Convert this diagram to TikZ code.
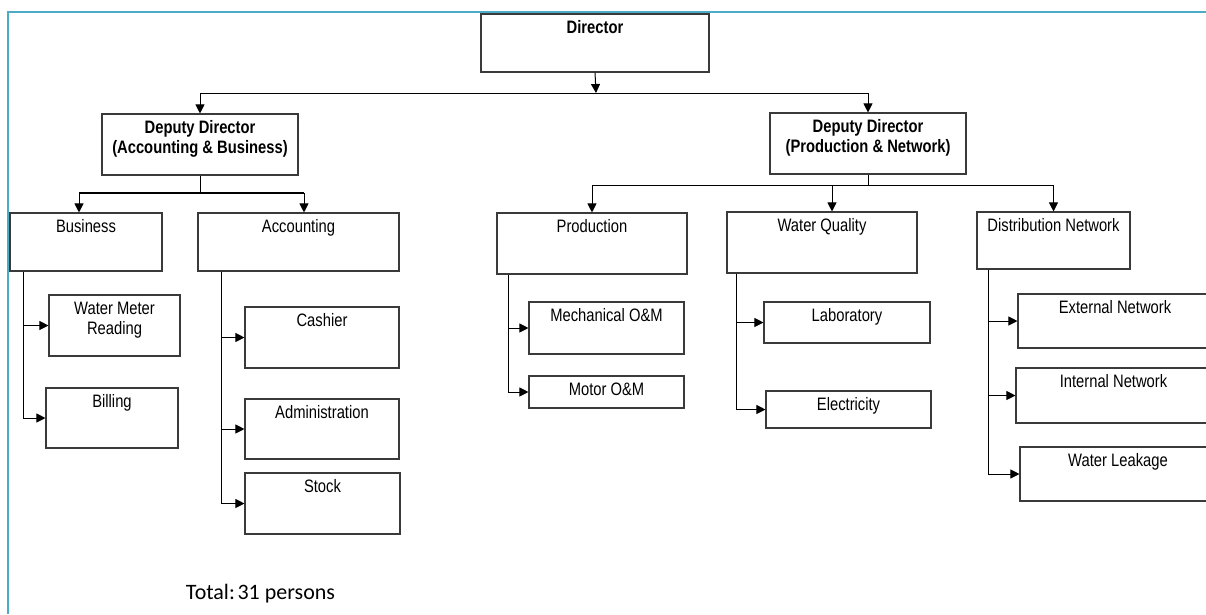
\documentclass[tikz,border=0pt]{standalone}
\usepackage{fontspec}
\setmainfont{Liberation Sans}[FakeStretch=0.82]
\newfontfamily\totalfont{Carlito}
\usetikzlibrary{arrows.meta}
\definecolor{frame-blue}{HTML}{4BACC6}
\definecolor{box-gray}{HTML}{3A3A3A}

\begin{document}
\begin{tikzpicture}[x=1pt, y=-1pt,
      every node/.style={font=\fontsize{18}{20}\selectfont},
      unit/.style={draw=box-gray, line width=1.1pt, inner sep=0pt},
      lbl/.style={anchor=north, inner sep=7pt, align=center},
      boldlbl/.style={lbl, font=\fontsize{18}{20}\selectfont\bfseries},
      ln/.style={line width=1pt},
      arr/.style={ln, -{Triangle[length=9pt, width=9pt]}}]
    \useasboundingbox (0,0) rectangle (1206,614);
    \clip (0,0) rectangle (1206,614);
    \draw[frame-blue, line width=2.2pt] (8,614) -- (8,12) -- (1206,12);
    % top levels
    \node[unit, minimum width=228pt, minimum height=58pt,
          label={[boldlbl]north:Director}] (DIR) at (595,43) {};
    \node[unit, minimum width=196pt, minimum height=61pt,
          label={[boldlbl]north:{Deputy Director\\(Accounting \& Business)}}] (DDAB) at (200,144.5) {};
    \node[unit, minimum width=196pt, minimum height=61pt,
          label={[boldlbl]north:{Deputy Director\\(Production \& Network)}}] (DDPN) at (868,143.5) {};
    \coordinate (TOP) at (596,93);
    \draw[arr] (DIR.south) -- (TOP);
    \draw[arr] (TOP) -| (DDAB.north);
    \draw[arr] (TOP) -| (DDPN.north);
    % accounting & business side
    \node[unit, minimum width=152pt, minimum height=58pt,
          label={[lbl]north:Business}] (BUS) at (86,242) {};
    \node[unit, minimum width=201pt, minimum height=58pt,
          label={[lbl]north:Accounting}] (ACC) at (298.5,242) {};
    \coordinate (ABBAR) at (195,193);
    \draw[ln] (DDAB.south) -- (DDAB.south |- ABBAR);
    \draw[line width=2.5pt] ([xshift=-7pt]BUS.north |- ABBAR) -- ([xshift=5.5pt]ACC.north |- ABBAR);
    \draw[arr] ([xshift=-7pt]BUS.north |- ABBAR) -- ([xshift=-7pt]BUS.north);
    \draw[arr] ([xshift=5.5pt]ACC.north |- ABBAR) -- ([xshift=5.5pt]ACC.north);
    \node[unit, minimum width=131pt, minimum height=61pt,
          label={[lbl]north:{Water Meter\\Reading}}] (WMR) at (114.5,325.5) {};
    \node[unit, minimum width=132pt, minimum height=60pt,
          label={[lbl]north:Billing}] (BIL) at (112,418) {};
    \draw[arr] ([xshift=14pt]BUS.south west) |- (WMR.west);
    \draw[arr] ([xshift=14pt]BUS.south west) |- (BIL.west);
    \node[unit, minimum width=154pt, minimum height=61pt,
          label={[lbl]north:Cashier}] (CSH) at (322,337.5) {};
    \node[unit, minimum width=154pt, minimum height=60pt,
          label={[lbl]north:Administration}] (ADM) at (322,429) {};
    \node[unit, minimum width=155pt, minimum height=61pt,
          label={[lbl]north:Stock}] (STK) at (322.5,503.5) {};
    \draw[arr] ([xshift=24pt]ACC.south west) |- (CSH.west);
    \draw[arr] ([xshift=24pt]ACC.south west) |- (ADM.west);
    \draw[arr] ([xshift=24pt]ACC.south west) |- (STK.west);
    % production & network side
    \node[unit, minimum width=190pt, minimum height=61pt,
          label={[lbl]north:Production}] (PRD) at (592,243.5) {};
    \node[unit, minimum width=190pt, minimum height=61pt,
          label={[lbl]north:Water Quality}] (WQ) at (822,242.5) {};
    \node[unit, minimum width=153pt, minimum height=57pt,
          label={[lbl]north:Distribution Network}] (DIST) at (1053.5,240.5) {};
    \coordinate (PNBAR) at (868,185);
    \draw[ln] (DDPN.south) -- (DDPN.south |- PNBAR);
    \draw[ln] (PRD.north |- PNBAR) -- (DIST.north |- PNBAR);
    \draw[arr] (PRD.north |- PNBAR) -- (PRD.north);
    \draw[arr] ([xshift=10pt]WQ.north |- PNBAR) -- ([xshift=10pt]WQ.north);
    \draw[arr] (DIST.north |- PNBAR) -- (DIST.north);
    \node[unit, minimum width=155pt, minimum height=52pt,
          label={[lbl]north:Mechanical O\&M}] (MEC) at (606.5,328) {};
    \node[unit, minimum width=155pt, minimum height=32pt,
          label={[lbl]north:Motor O\&M}] (MOT) at (606.5,392) {};
    \draw[arr] ([xshift=12pt]PRD.south west) |- (MEC.west);
    \draw[arr] ([xshift=12pt]PRD.south west) |- (MOT.west);
    \node[unit, minimum width=166pt, minimum height=41pt,
          label={[lbl]north:Laboratory}] (LAB) at (847,322.5) {};
    \node[unit, minimum width=165pt, minimum height=37pt,
          label={[lbl]north:Electricity}] (ELE) at (848.5,409.5) {};
    \draw[arr] ([xshift=10pt]WQ.south west) |- (LAB.west);
    \draw[arr] ([xshift=10pt]WQ.south west) |- (ELE.west);
    \node[unit, minimum width=194pt, minimum height=54pt,
          label={[lbl]north:External Network}] (EXT) at (1115,321) {};
    \node[unit, minimum width=195pt, minimum height=55pt,
          label={[lbl]north:Internal Network}] (INT) at (1113.5,395.5) {};
    \node[unit, minimum width=196pt, minimum height=54pt,
          label={[lbl]north:Water Leakage}] (LEAK) at (1118,474) {};
    \draw[arr] ([xshift=12pt]DIST.south west) |- (EXT.west);
    \draw[arr] ([xshift=12pt]DIST.south west) |- (INT.west);
    \draw[arr] ([xshift=12pt]DIST.south west) |- (LEAK.west);
    % staff count
    \node[font=\totalfont\fontsize{22}{26}\selectfont, anchor=base] (TOTAL) at (260.5,599) {Total:\hspace{0.12em}31 persons};
  \end{tikzpicture}
\end{document}
